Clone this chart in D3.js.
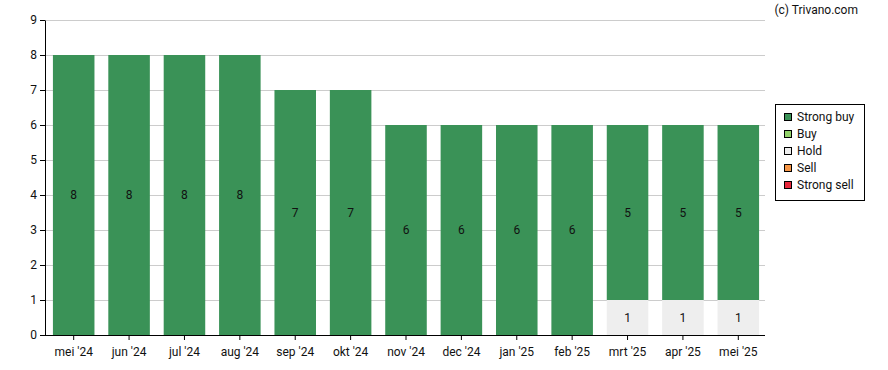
<!DOCTYPE html>
<html><head><meta charset="utf-8">
<script src="https://cdn.jsdelivr.net/npm/d3@7"></script>
<style>body{margin:0;background:#fff;}svg{display:block;font-family:Roboto,Arial,sans-serif;}</style>
</head><body><svg id="c" width="888" height="370"></svg>
<script>
const months = ["mei '24","jun '24","jul '24","aug '24","sep '24","okt '24","nov '24","dec '24","jan '25","feb '25","mrt '25","apr '25","mei '25"];
const strongBuy = [8,8,8,8,7,7,6,6,6,6,5,5,5];
const buy = [0,0,0,0,0,0,0,0,0,0,0,0,0];
const hold = [0,0,0,0,0,0,0,0,0,0,1,1,1];
const sell = [0,0,0,0,0,0,0,0,0,0,0,0,0];
const strongSell = [0,0,0,0,0,0,0,0,0,0,0,0,0];
const yTicks = [0,1,2,3,4,5,6,7,8,9];
const seriesNames = ["Strong buy","Buy","Hold","Sell","Strong sell"];
const colors = ["#3a9257","#93d36b","#eeeeee","#f79646","#e8283c"];

const svg = d3.select("#c");
const L=45, R=765, T=20, B=335;
const x = d3.scaleBand().domain(months).range([L+1,R+1]).paddingInner(0.25).paddingOuter(0.125);
const y = d3.scaleLinear().domain([0,9]).range([B,T]);

// grid
svg.append("g").selectAll("line").data(yTicks.filter(d=>d>0)).join("line")
  .attr("x1",L).attr("x2",R).attr("y1",d=>y(d)+0.5).attr("y2",d=>y(d)+0.5)
  .attr("stroke","#cccccc").attr("stroke-width",1);

const data = months.map((m,i)=>({m,"Hold":hold[i],"Strong buy":strongBuy[i],"Buy":buy[i],"Sell":sell[i],"Strong sell":strongSell[i]}));
const order = ["Strong sell","Sell","Hold","Buy","Strong buy"];
const stack = d3.stack().keys(order)(data);
const colorOf = k=>colors[seriesNames.indexOf(k)];

stack.forEach(layer=>{
  const g = svg.append("g");
  g.selectAll("rect").data(layer.filter(d=>d[1]-d[0]>0)).join("rect")
    .attr("x",d=>x(d.data.m)).attr("width",x.bandwidth())
    .attr("y",d=>y(d[1])).attr("height",d=>y(d[0])-y(d[1]))
    .attr("fill",colorOf(layer.key));
  g.selectAll("text").data(layer.filter(d=>d[1]-d[0]>0)).join("text")
    .attr("x",d=>x(d.data.m)+x.bandwidth()/2).attr("y",d=>y((d[0]+d[1])/2))
    .attr("dy","0.35em").attr("text-anchor","middle")
    .attr("font-size",12).attr("fill","#111")
    .text(d=>d[1]-d[0]);
});

// axes
const ya = svg.append("g").attr("transform",`translate(${L},0)`)
  .call(d3.axisLeft(y).tickValues(yTicks).tickSize(5).tickSizeOuter(0));
ya.select(".domain").attr("stroke","#000");
ya.selectAll("text").attr("font-size",12).attr("fill","#111").attr("font-family","Roboto,Arial,sans-serif");
const xa = svg.append("g").attr("transform",`translate(0,${B})`)
  .call(d3.axisBottom(x).tickSize(5).tickSizeOuter(0));
xa.select(".domain").attr("stroke","#000").attr("d",`M${L},0.5H${R}`);
xa.selectAll("text").attr("font-size",12).attr("fill","#111").attr("font-family","Roboto,Arial,sans-serif").attr("dy","1.1em");

// credit
svg.append("text").attr("x",858).attr("y",14).attr("text-anchor","end")
  .attr("font-size",12).attr("fill","#111").text("(c) Trivano.com");

// legend
const lg = svg.append("g");
lg.append("rect").attr("x",775.5).attr("y",104.5).attr("width",89).attr("height",96)
  .attr("fill","#fff").attr("stroke","#000");
seriesNames.forEach((n,i)=>{
  lg.append("rect").attr("x",784.5).attr("y",113.5+i*17).attr("width",7).attr("height",7)
    .attr("fill",colors[i]).attr("stroke","#000");
  lg.append("text").attr("x",797).attr("y",117+i*17).attr("dy","0.35em")
    .attr("font-size",12).attr("fill","#111").text(n);
});
</script></body></html>
